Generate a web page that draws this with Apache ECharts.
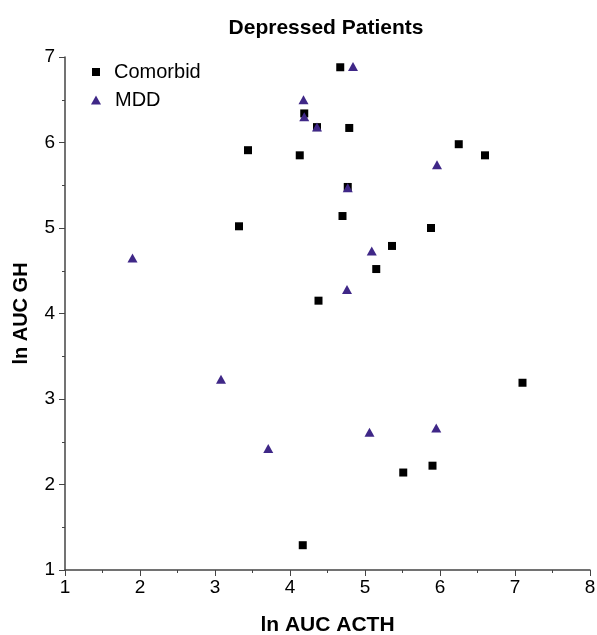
<!DOCTYPE html>
<html lang="en">
<head>
    <meta charset="UTF-8">
    <title>Depressed Patients</title>
    <script src="https://cdn.jsdelivr.net/npm/echarts@6/dist/echarts.min.js"></script>
    <style>
        *{
            padding:0;
            margin:0;
        }
        html,body{
            height:100%;
            background:#fff;
        }
        #main{
            width:597px;
            height:635px;
        }
    </style>
</head>
<body>
<div id="main"></div>
<script>
    // ln AUC ACTH / ln AUC GH
    var comorbidX=[4.67,4.19,4.36,4.79,3.44,4.13,6.25,6.60,4.77,4.70,3.32,5.88,5.36,5.15,4.38,7.10,5.51,5.90,4.17];
    var comorbidY=[6.88,6.34,6.18,6.17,5.91,5.85,5.98,5.85,5.48,5.14,5.02,5.00,4.79,4.52,4.15,3.19,2.14,2.22,1.29];
    var mddX=[4.84,4.18,4.19,4.36,5.96,4.77,5.09,4.76,1.90,3.08,3.71,5.06,5.95];
    var mddY=[6.89,6.50,6.30,6.18,5.74,5.47,4.73,4.28,4.65,3.23,2.42,2.61,2.66];
    var seriesNames=['Comorbid','MDD'];

    function pairs(xs,ys){
        var res=[];
        for(var i=0;i<xs.length;i++){
            res.push([xs[i],ys[i]]);
        }
        return res;
    }

    var font='"Liberation Sans", Arial, sans-serif';
    var axisColor='#444';
    var purple='#3f2787';

    var legendText={
        fontFamily:font,
        fontSize:20,
        color:'#000',
        padding:[0,0,0,9]
    };

    var myChart=echarts.init(document.getElementById('main'));
    var option={
        animation:false,
        title:{
            text:'Depressed Patients',
            left:321,
            textAlign:'center',
            top:13,
            textStyle:{
                fontFamily:font,
                fontSize:21,
                fontWeight:'bold',
                color:'#000'
            }
        },
        legend:[
            {
                left:92,
                top:62,
                padding:0,
                itemWidth:8,
                itemHeight:8,
                textStyle:legendText,
                data:[{name:seriesNames[0],icon:'rect',itemStyle:{color:'#000'}}]
            },
            {
                left:91,
                top:90,
                padding:0,
                itemWidth:10,
                itemHeight:9,
                textStyle:legendText,
                data:[{name:seriesNames[1],icon:'triangle',itemStyle:{color:purple}}]
            }
        ],
        grid:{
            left:65,
            right:7,
            top:57,
            bottom:65,
            containLabel:false,
            outerBoundsMode:'none'
        },
        xAxis:{
            type:'value',
            min:1,
            max:8,
            interval:1,
            name:'ln AUC ACTH',
            nameLocation:'middle',
            nameGap:45,
            nameTextStyle:{
                fontFamily:font,
                fontSize:21,
                fontWeight:'bold',
                color:'#000'
            },
            axisLine:{show:true,lineStyle:{color:axisColor,width:1.5}},
            axisTick:{show:true,length:6,lineStyle:{color:axisColor}},
            minorTick:{show:true,splitNumber:2,length:3,lineStyle:{color:axisColor}},
            splitLine:{show:false},
            axisLabel:{
                fontFamily:font,
                fontSize:19,
                color:'#000',
                margin:8
            }
        },
        yAxis:{
            type:'value',
            min:1,
            max:7,
            interval:1,
            name:'ln AUC GH',
            nameLocation:'middle',
            nameGap:34,
            nameTextStyle:{
                fontFamily:font,
                fontSize:20,
                fontWeight:'bold',
                color:'#000'
            },
            axisLine:{show:true,lineStyle:{color:axisColor,width:1.5}},
            axisTick:{show:true,length:6,lineStyle:{color:axisColor}},
            minorTick:{show:true,splitNumber:2,length:3,lineStyle:{color:axisColor}},
            splitLine:{show:false},
            axisLabel:{
                fontFamily:font,
                fontSize:19,
                color:'#000',
                margin:10
            }
        },
        series:[
            {
                name:seriesNames[0],
                type:'scatter',
                symbol:'rect',
                symbolSize:8,
                itemStyle:{color:'#000',opacity:1},
                data:pairs(comorbidX,comorbidY)
            },
            {
                name:seriesNames[1],
                type:'scatter',
                symbol:'triangle',
                symbolSize:[10,9],
                itemStyle:{color:purple,opacity:1},
                data:pairs(mddX,mddY)
            }
        ]
    };
    myChart.setOption(option);
</script>
</body>
</html>
